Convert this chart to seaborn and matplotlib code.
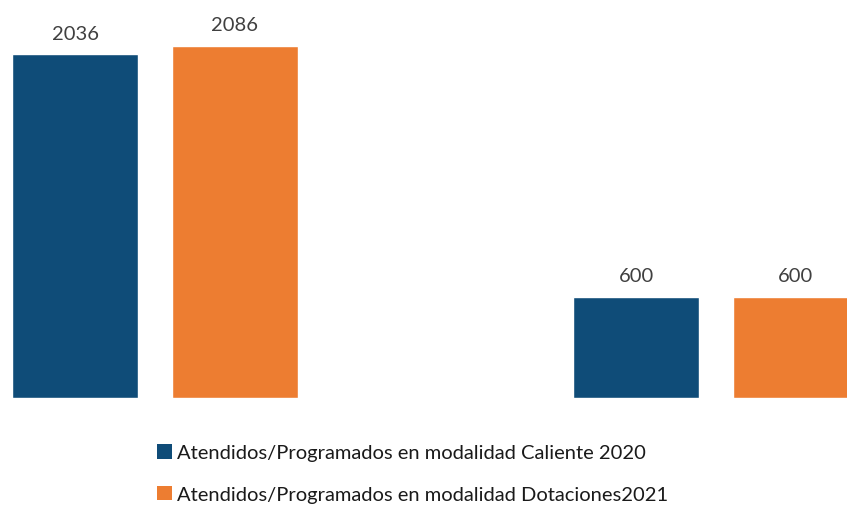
import matplotlib
matplotlib.use("Agg")
import matplotlib.pyplot as plt
from matplotlib.patches import Patch
import pandas as pd
import seaborn as sns

# data
groups = ["Grupo 1", "Grupo 2"]
series = [
    "Atendidos/Programados en modalidad Caliente 2020",
    "Atendidos/Programados en modalidad Dotaciones2021",
]
caliente_2020 = [2036, 600]
dotaciones_2021 = [2086, 600]
colors = ["#0F4C78", "#ED7D31"]

df = pd.DataFrame({
    "grupo": groups * 2,
    "serie": [series[0]] * 2 + [series[1]] * 2,
    "valor": caliente_2020 + dotaciones_2021,
})

sns.set_theme(style="white")
plt.rcParams["font.family"] = ["Lato", "DejaVu Sans"]

fig = plt.figure(figsize=(8.47, 5.06), dpi=100)
ax = fig.add_axes([0, 107 / 506, 1, 399 / 506])

sns.barplot(data=df, x="grupo", y="valor", hue="serie", hue_order=series,
            palette=colors, width=0.57, gap=0.2125, legend=False, ax=ax,
            saturation=1, errorbar=None)

for container in ax.containers:
    ax.bar_label(container, fmt="%d", padding=9, fontsize=14.5, color="#404040")

ax.set_xlim(-155 / 561, (847 - 155) / 561)
ax.set_ylim(0, 2364.5)
ax.set_axis_off()

handles = [Patch(facecolor=c, edgecolor="none") for c in colors]
fig.legend(handles, series, loc="upper left", bbox_to_anchor=(157 / 847, 1 - 445 / 506),
           frameon=False, fontsize=14.5, handlelength=0.75, handleheight=0.75,
           handletextpad=0.25, labelspacing=1.2, borderpad=0, borderaxespad=0,
           labelcolor="#1A1A1A")

fig.savefig("out.png", dpi=100)
plt.close(fig)
